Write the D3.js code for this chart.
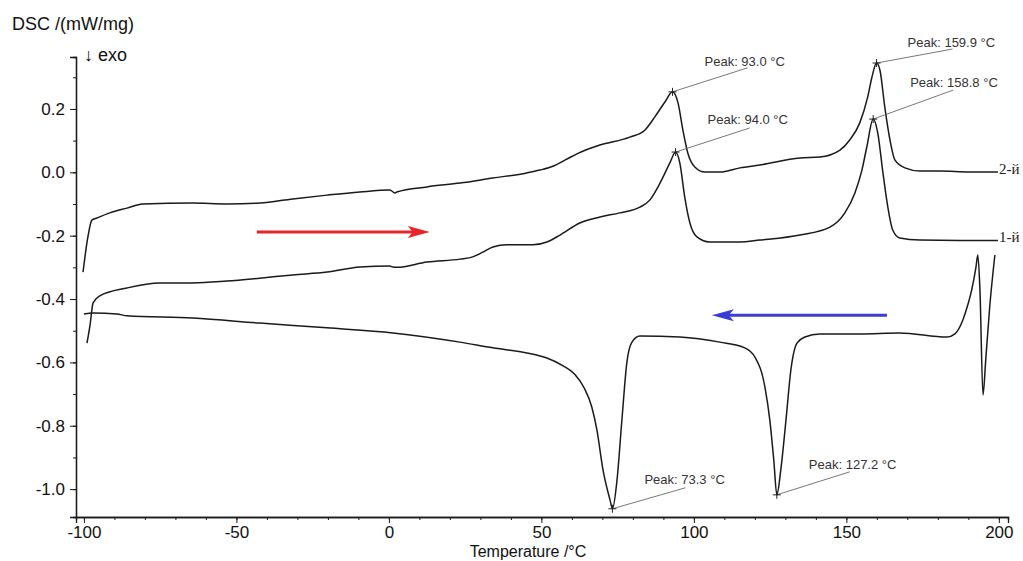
<!DOCTYPE html>
<html>
<head>
<meta charset="utf-8">
<script src="https://cdn.jsdelivr.net/npm/d3@7"></script>
<style>
  body { margin: 0; background: #fff; }
  svg { display: block; font-family: Arial, "Liberation Sans", sans-serif; }
</style>
</head>
<body>
<svg id="chart" width="1023" height="561"></svg>
<script>
// DSC traces: temperature (°C) and heat flow (mW/mg)
const heat2Temp = [-100.3,-98.7,-97.4,-95.7,-91.5,-85.9,-80.7,-64.3,-53.1,-42.3,-31.5,-20.3,-9.5,0.3,2.0,2.6,12.5,23.3,34.1,45.2,49.5,54.0,58.0,62.0,69.2,79.0,83.9,87.2,90.5,93.0,94.8,96.4,98.0,100.3,103.6,108.5,115.1,121.6,134.8,141.3,147.9,151.1,154.4,157.0,158.4,159.9,161.0,162.6,164.3,165.9,169.2,174.1,180.7,190.5,199.7];
const heat2Dsc = [-0.315,-0.204,-0.151,-0.144,-0.128,-0.113,-0.100,-0.097,-0.100,-0.097,-0.084,-0.072,-0.062,-0.056,-0.065,-0.062,-0.046,-0.034,-0.018,-0.002,0.007,0.020,0.040,0.060,0.086,0.111,0.133,0.175,0.222,0.254,0.219,0.133,0.061,0.017,0.001,0.001,0.014,0.023,0.045,0.048,0.070,0.102,0.156,0.238,0.301,0.345,0.323,0.206,0.102,0.039,0.014,0.004,0.004,0.001,0.001];

const heat1Temp = [-99.0,-98.0,-97.0,-94.8,-85.9,-75.1,-64.3,-53.1,-42.3,-31.5,-20.3,-9.5,0.3,1.3,2.6,12.5,23.3,27.5,30.8,34.1,38.7,47.2,51.8,56.1,62.6,69.2,75.7,82.3,85.6,88.9,92.1,94.0,95.4,97.0,98.7,101.0,105.2,115.1,121.6,134.8,144.6,149.5,152.8,155.1,156.7,158.8,160.3,162.0,163.6,165.2,167.5,174.1,187.2,199.7];
const heat1Dsc = [-0.539,-0.482,-0.412,-0.390,-0.365,-0.349,-0.349,-0.343,-0.334,-0.324,-0.315,-0.299,-0.296,-0.299,-0.300,-0.283,-0.274,-0.267,-0.252,-0.236,-0.229,-0.229,-0.220,-0.198,-0.160,-0.141,-0.128,-0.110,-0.087,-0.034,0.029,0.064,0.029,-0.078,-0.160,-0.204,-0.220,-0.220,-0.214,-0.198,-0.173,-0.128,-0.065,0.007,0.080,0.168,0.124,-0.002,-0.110,-0.182,-0.207,-0.214,-0.215,-0.215];

const coolTemp = [-100.0,-97.0,-89.2,-85.9,-64.3,-42.3,-20.3,1.3,23.3,34.1,45.2,51.8,57.0,61.0,64.0,66.5,68.2,70.2,72.5,73.3,74.8,76.4,78.0,79.7,82.3,95.4,108.5,116.7,120.0,123.3,124.9,126.2,127.2,128.5,130.2,131.8,133.8,136.4,141.3,154.4,167.5,183.0,185.6,188.2,189.8,191.1,192.5,193.1,193.8,194.8,195.7,197.0,198.7];
const coolDsc = [-0.447,-0.444,-0.447,-0.453,-0.460,-0.476,-0.491,-0.507,-0.536,-0.554,-0.570,-0.586,-0.610,-0.638,-0.680,-0.740,-0.813,-0.939,-1.034,-1.062,-0.971,-0.782,-0.602,-0.536,-0.517,-0.520,-0.536,-0.554,-0.583,-0.678,-0.782,-0.908,-1.018,-0.939,-0.782,-0.624,-0.539,-0.520,-0.510,-0.510,-0.507,-0.520,-0.510,-0.466,-0.419,-0.371,-0.299,-0.261,-0.371,-0.703,-0.592,-0.425,-0.261];

// Peak temperatures and heat flow at each peak
const peakTemp = [93.0, 94.0, 159.9, 158.8, 73.3, 127.2];
const peakDsc  = [0.254, 0.064, 0.345, 0.168, -1.062, -1.018];

// Run labels at the right end of the heating curves
const runNames = ["2-й", "1-й"];
const runEndTemp = [199.7, 199.7];
const runEndDsc = [0.001, -0.215];

// Tick values
const xMajorTicks = [-100, -50, 0, 50, 100, 150, 200];
const xMinorTicks = d3.range(-100, 201, 10);
const yMajorTicks = [-1.0, -0.8, -0.6, -0.4, -0.2, 0.0, 0.2];
const yMinorTicks = d3.range(-10, 4).map(d => d / 10);

// Direction arrows: heating (left to right) and cooling (right to left)
const heatArrowTemp = [-43.3, 13.4];
const heatArrowDsc = -0.188;
const coolArrowTemp = [163.3, 105.9];
const coolArrowDsc = -0.451;

const svg = d3.select("#chart");
const x = d3.scaleLinear().domain([-102.6, 203]).range([76, 1008]);
const y = d3.scaleLinear().domain([-1.088, 0.364]).range([517, 57]);

const ink = "#1a1a1a";

// Axes: minor ticks first, then labelled major ticks
function styleAxis(g) {
  g.select(".domain").attr("stroke", ink).attr("stroke-width", 1.3);
  g.selectAll(".tick line").attr("stroke", ink).attr("stroke-width", 1);
  g.selectAll(".tick text").attr("fill", "#111").style("font-size", "17px")
    .style("font-family", "Arial, 'Liberation Sans', sans-serif");
}
svg.append("g").attr("transform", "translate(0,517)")
  .call(d3.axisBottom(x).tickValues(xMinorTicks).tickSize(3).tickFormat(""))
  .call(styleAxis);
svg.append("g").attr("transform", "translate(0,517)")
  .call(d3.axisBottom(x).tickValues(xMajorTicks).tickSize(6).tickPadding(3).tickFormat(d => String(d)))
  .call(styleAxis);
svg.append("g").attr("transform", "translate(76,0)")
  .call(d3.axisLeft(y).tickValues(yMinorTicks).tickSize(3).tickFormat(""))
  .call(styleAxis);
svg.append("g").attr("transform", "translate(76,0)")
  .call(d3.axisLeft(y).tickValues(yMajorTicks).tickSize(6).tickPadding(5).tickFormat(d => d.toFixed(1)))
  .call(styleAxis);

// Axis titles
svg.append("text").attr("x", 12).attr("y", 30).attr("fill", "#111")
  .style("font-size", "18px").text("DSC /(mW/mg)");
svg.append("text").attr("x", 84).attr("y", 61).attr("fill", "#111")
  .style("font-size", "18px").text("↓ exo");
svg.append("text").attr("x", 528).attr("y", 557).attr("text-anchor", "middle").attr("fill", "#111")
  .style("font-size", "16px").text("Temperature /°C");

// Curves
const line = d3.line().x(d => x(d[0])).y(d => y(d[1])).curve(d3.curveMonotoneX);
const series = [
  d3.zip(heat2Temp, heat2Dsc),
  d3.zip(heat1Temp, heat1Dsc),
  d3.zip(coolTemp, coolDsc)
];
svg.append("g").selectAll("path").data(series).join("path")
  .attr("d", line).attr("fill", "none").attr("stroke", ink)
  .attr("stroke-width", 1.5).attr("stroke-linejoin", "round");

// Run labels
svg.append("g").selectAll("text").data(runNames).join("text")
  .attr("x", (d, i) => x(runEndTemp[i]) + 1)
  .attr("y", (d, i) => y(runEndDsc[i]) + 2)
  .attr("fill", "#222")
  .style("font-family", "'Liberation Serif', 'Times New Roman', serif")
  .style("font-size", "15px")
  .text(d => d);

// Peak markers with leader lines and labels
const peakLabelDx = [32, 32, 31, 37, 32, 32];
const peakLabelDy = [-26, -28, -16, -32, -25, -26];
const peakLeaderDx = [75, 74, 76, 80, 73, 73];
const peakLeaderDy = [-24, -24, -14, -29, -21, -23];
const peaks = svg.append("g");
peakTemp.forEach((t, i) => {
  const px = x(t), py = y(peakDsc[i]);
  peaks.append("line").attr("x1", px).attr("y1", py)
    .attr("x2", px + peakLeaderDx[i]).attr("y2", py + peakLeaderDy[i])
    .attr("stroke", "#555").attr("stroke-width", 0.8);
  peaks.append("path")
    .attr("d", `M${px - 4},${py}H${px + 4}M${px},${py - 4}V${py + 4}`)
    .attr("stroke", "#222").attr("stroke-width", 1);
  peaks.append("text").attr("x", px + peakLabelDx[i]).attr("y", py + peakLabelDy[i])
    .attr("fill", "#333").style("font-size", "13px")
    .text(`Peak: ${t.toFixed(1)} °C`);
});

// Direction arrows
function arrow(temps, v, color) {
  const x0 = x(temps[0]), x1 = x(temps[1]), yy = y(v);
  const dir = Math.sign(x1 - x0);
  const g = svg.append("g");
  g.append("line").attr("x1", x0).attr("y1", yy).attr("x2", x1 - dir * 12).attr("y2", yy)
    .attr("stroke", color).attr("stroke-width", 3);
  g.append("path")
    .attr("d", `M${x1},${yy}L${x1 - dir * 22},${yy - 6}L${x1 - dir * 17},${yy}L${x1 - dir * 22},${yy + 6}Z`)
    .attr("fill", color);
}
arrow(heatArrowTemp, heatArrowDsc, "#e8242b");
arrow(coolArrowTemp, coolArrowDsc, "#3a3ed8");
</script>
</body>
</html>
